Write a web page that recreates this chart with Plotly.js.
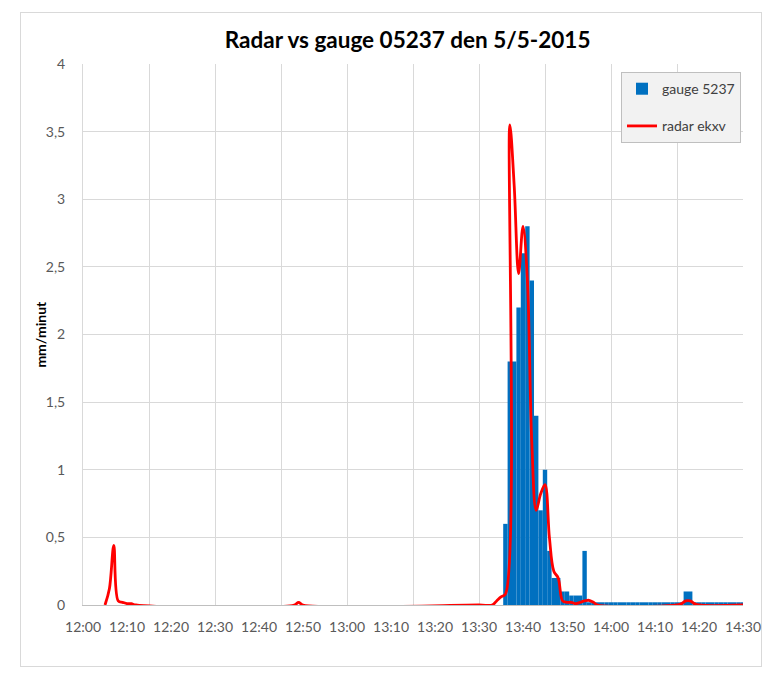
<!DOCTYPE html>
<html>
<head>
<meta charset="utf-8">
<script src="https://cdn.plot.ly/plotly-3.0.1.min.js"></script>
<style>
  body { margin: 0; background: #fff; }
  #frame { position: absolute; left: 20px; top: 12px; width: 740px; height: 653px; border: 1px solid #d9d9d9; }
  #plot { position: absolute; left: 0; top: 0; width: 772px; height: 679px; }
</style>
</head>
<body>
<div id="frame"></div>
<div id="plot"></div>
<script>
// day of the event
let day = '2015-05-05 ';

// gauge 5237, one value per minute
let gaugeTimes = [
  '13:36','13:37','13:38','13:39','13:40','13:41','13:42','13:43','13:44','13:45',
  '13:46','13:47','13:48','13:49','13:50','13:51','13:52','13:53','13:54','13:55',
  '13:56','13:57','13:58','13:59','14:00','14:01','14:02','14:03','14:04','14:05',
  '14:06','14:07','14:08','14:09','14:10','14:11','14:12','14:13','14:14','14:15',
  '14:16','14:17','14:18','14:19','14:20','14:21','14:22','14:23','14:24','14:25',
  '14:26','14:27','14:28','14:29','14:30'
];
let gaugeValues = [
  0.6, 1.8, 1.8, 2.2, 2.6, 2.8, 2.4, 1.4, 0.7, 1.0,
  0.4, 0.2, 0.2, 0.1, 0.1, 0.07, 0.07, 0.07, 0.4, 0.02,
  0.02, 0.02, 0.02, 0.02, 0.02, 0.02, 0.02, 0.02, 0.02, 0.02,
  0.02, 0.02, 0.02, 0.02, 0.02, 0.02, 0.02, 0.02, 0.02, 0.02,
  0.02, 0.1, 0.1, 0.02, 0.02, 0.02, 0.02, 0.02, 0.02, 0.02,
  0.02, 0.02, 0.02, 0.02, 0.02
];

// radar ekxv
let radarTimes = [
  '12:05','12:06','12:07','12:08','12:09','12:10','12:11','12:12',
  '12:48','12:49','12:50',
  '13:30','13:33','13:34','13:35','13:36','13:37','13:38','13:39','13:40',
  '13:41','13:42','13:43','13:44','13:45','13:46','13:47','13:48','13:49','13:50',
  '13:51','13:52','13:53','13:54','13:55','13:56','13:57',
  '14:15','14:16','14:17','14:18','14:19','14:20','14:30'
];
let radarValues = [
  0, 0.12, 0.44, 0.03, 0.02, 0.01, 0.01, 0,
  0, 0.02, 0,
  0, 0, 0.03, 0.06, 0.08, 3.55, 3.1, 2.45, 2.8,
  2.4, 1.2, 0.7, 0.82, 0.89, 0.5, 0.25, 0.2, 0.03, 0.02,
  0.02, 0.01, 0.02, 0.03, 0.035, 0.02, 0,
  0, 0.01, 0.03, 0.03, 0.01, 0, 0
];

let yTicks = [0, 0.5, 1, 1.5, 2, 2.5, 3, 3.5, 4];

let plot = document.getElementById('plot');

let gaugeTrace = {
  type: 'bar',
  x: gaugeTimes.map(t => day + t),
  y: gaugeValues,
  width: 60000,
  marker: { color: '#0070c0', line: { width: 0 } },
  name: 'gauge 5237',
  legendgroup: 'g'
};

// radar line sits on the overlaid x axis (which also carries the 15 min grid)
let radarTrace = {
  type: 'scatter',
  mode: 'lines',
  x: radarTimes.map(t => day + t),
  y: radarValues,
  xaxis: 'x2',
  yaxis: 'y',
  line: { color: '#ff0000', width: 2.8, shape: 'spline', smoothing: 1 },
  cliponaxis: false,
  name: 'radar ekxv',
  legendgroup: 'r'
};

let xRange = [day + '12:00', day + '14:30'];

let layout = {
  width: 772,
  height: 679,
  margin: { l: 83, r: 29, t: 64, b: 74 },
  paper_bgcolor: 'rgba(0,0,0,0)',
  plot_bgcolor: '#ffffff',
  separators: ', ',
  font: { family: 'Lato, "Open Sans", sans-serif', color: '#595959', size: 14 },
  title: {
    text: '<b>Radar vs gauge 05237 den 5/5-2015</b>',
    font: { size: 22.5, color: '#000000' },
    x: 0.528, xanchor: 'center',
    y: 0.941, yanchor: 'middle'
  },
  showlegend: true,
  legend: {
    x: 0.997, xanchor: 'right',
    y: 0.985, yanchor: 'top',
    bgcolor: '#f2f2f2',
    bordercolor: '#bfbfbf',
    borderwidth: 1,
    traceorder: 'grouped',
    tracegroupgap: 16,
    font: { size: 14, color: '#404040' }
  },
  xaxis: {
    type: 'date',
    range: xRange,
    tick0: day + '12:00',
    dtick: 600000,
    tickformat: '%H:%M',
    showgrid: false,
    zeroline: false,
    showline: true,
    linecolor: '#bfbfbf',
    ticks: 'outside',
    ticklen: 9,
    tickcolor: 'rgba(0,0,0,0)',
    tickfont: { size: 14, color: '#595959' }
  },
  xaxis2: {
    type: 'date',
    overlaying: 'x',
    anchor: 'y',
    side: 'bottom',
    matches: 'x',
    tick0: day + '12:00',
    dtick: 900000,
    showgrid: true,
    gridcolor: '#d9d9d9',
    showticklabels: false,
    ticks: '',
    showline: false,
    zeroline: false
  },
  yaxis: {
    range: [0, 4],
    tickvals: yTicks,
    showgrid: true,
    gridcolor: '#d9d9d9',
    zeroline: false,
    showline: true,
    linecolor: '#d9d9d9',
    ticks: 'outside',
    ticklen: 14,
    tickcolor: 'rgba(0,0,0,0)',
    tickfont: { size: 14, color: '#595959' }
  },
  annotations: [{
    text: '<b>mm/minut</b>',
    textangle: -90,
    xref: 'paper', yref: 'paper',
    x: -0.065, y: 0.5,
    xanchor: 'center', yanchor: 'middle',
    showarrow: false,
    font: { size: 14, color: '#000000' }
  }]
};

Plotly.newPlot(plot, [gaugeTrace, radarTrace], layout, { displayModeBar: false });
</script>
</body>
</html>
